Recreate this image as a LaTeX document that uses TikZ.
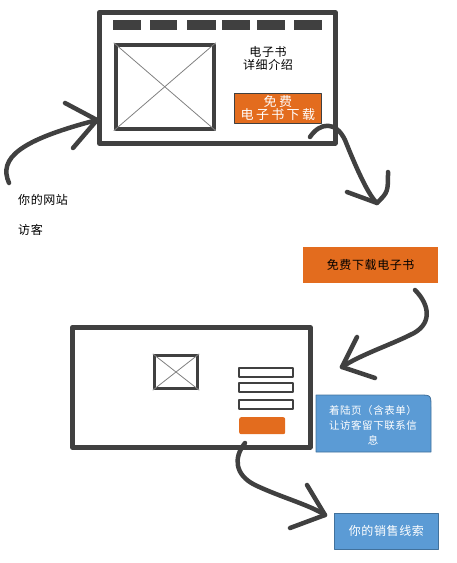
\documentclass[tikz,border=0pt]{standalone}
\usepackage{fontspec}
\newfontfamily\cjk[LetterSpace=5]{Noto Sans CJK SC}
\newfontfamily\cjkwide[LetterSpace=18]{Noto Sans CJK SC}
\definecolor{dk}{HTML}{404040}
\definecolor{org}{HTML}{E36C1E}
\definecolor{blu}{HTML}{5B9BD5}
\definecolor{bluedge}{HTML}{41719C}
\begin{document}
\begin{tikzpicture}[x=1pt,y=-1pt,line cap=round,line join=round,
  frame/.style={draw=dk,line width=4.5pt,minimum width=#1,anchor=north west,inner sep=0pt},
  flow/.style={draw=dk,line width=4.5pt},
  pic/.style={draw=dk,line width=3.5pt,anchor=north west,inner sep=0pt},
  cross/.style={draw=gray,line width=0.8pt},
  field/.style={draw=dk,line width=2pt,minimum width=54,minimum height=9,anchor=north west,inner sep=0pt},
  txt/.style={font=\cjk\fontsize{12}{15}\selectfont,inner sep=0pt},
  bluebox/.style={fill=blu,draw=bluedge,line width=0.8pt,anchor=north west,inner sep=0pt,text=white,font=\cjk\fontsize{12}{15}\selectfont,align=center}]
\useasboundingbox (0,0) rectangle (457,563);

% ---------- top page ----------
\node[frame=236,minimum height=131] (page1) at (97,10) {};
\foreach \a/\b in {113/141,150/177,187/216,222/250,257/285,294/322}
  \fill[dk] (\a,20) rectangle (\b,30);
\node[pic,minimum width=98,minimum height=84] (img1) at (114,43) {};
\draw[cross] (img1.north west) -- (img1.south east);
\draw[cross] (img1.north east) -- (img1.south west);
\node[txt,align=center,font=\cjk\fontsize{12}{13}\selectfont] (title1) at (268,58) {电子书\\详细介绍};
\node[fill=org,draw=dk,line width=0.8pt,minimum width=87,minimum height=30,anchor=north west,inner sep=0pt,
      text=white,align=center,font=\cjkwide\fontsize{13}{13}\selectfont] (btn1) at (234,93) {免费\\电子书下载};

% ---------- visitor ----------
\node[txt,anchor=west] (visitor1) at (18,200) {你的网站};
\node[txt,anchor=west] (visitor2) at (18,230) {访客};

% arrow 1
\coordinate (a1s) at (9,183);
\coordinate (a1e) at (97,120);
\draw[flow] (a1s) .. controls (-2,158) and (20,140) .. (a1e);
\draw[flow] (65,103) -- (a1e) -- (73,148);

% arrow 2
\coordinate (a2s) at (310,137);
\coordinate (a2m) at (345,140);
\coordinate (a2e) at (377,203);
\draw[flow] (a2s) .. controls (320,122) and (336,121) .. (a2m) .. controls (355,165) and (368,195) .. (a2e);
\draw[flow] (347,192) -- (a2e) .. controls (388,192) .. (388,172);

% ---------- download box ----------
\node[fill=org,minimum width=135,minimum height=36,anchor=north west,inner sep=0pt,
      font=\cjk\fontsize{12}{13}\selectfont] (dl) at (303,247) {免费下载电子书};

% arrow 3
\coordinate (a3s) at (415,290);
\coordinate (a3m) at (410,335);
\coordinate (a3e) at (342,367);
\draw[flow] (a3s) .. controls (430,305) and (433,325) .. (a3m) .. controls (390,345) and (360,355) .. (a3e);
\draw[flow] (357,337) -- (a3e) -- (375,378);

% ---------- landing page ----------
\node[frame=238,minimum height=120] (page2) at (70,325) {};
\node[pic,line width=3pt,minimum width=43,minimum height=33] (img2) at (153,354) {};
\draw[cross] (img2.north west) -- (img2.south east);
\draw[cross] (img2.north east) -- (img2.south west);
\node[field] (f1) at (238,367) {};
\node[field] (f2) at (238,382) {};
\node[field] (f3) at (238,399) {};
\node[fill=org,rounded corners=2pt,minimum width=46,minimum height=17,anchor=north west,inner sep=0pt] (btn2) at (239,417) {};

% landing box
\draw[fill=blu,draw=bluedge,line width=0.8pt] (316,452) -- (316,395) -- (419,395) .. controls (431,395) .. (431,407) -- (431,452) -- cycle;
\node[text=white,font=\cjk\fontsize{10.5}{15}\selectfont,align=center,inner sep=0pt] (lp) at (373,425)
  {着陆页（含表单）\\让访客留下联系信\\息};

% arrow 4
\coordinate (a4s) at (245,443);
\coordinate (a4m) at (255,485);
\coordinate (a4e) at (325,515);
\draw[flow] (a4s) .. controls (233,458) and (235,475) .. (a4m) .. controls (280,497) and (310,505) .. (a4e);
\draw[flow] (307,485) -- (a4e) -- (290,528);

% leads box
\node[bluebox,minimum width=104,minimum height=36] (leads) at (334,513) {你的销售线索};
\end{tikzpicture}
\end{document}
